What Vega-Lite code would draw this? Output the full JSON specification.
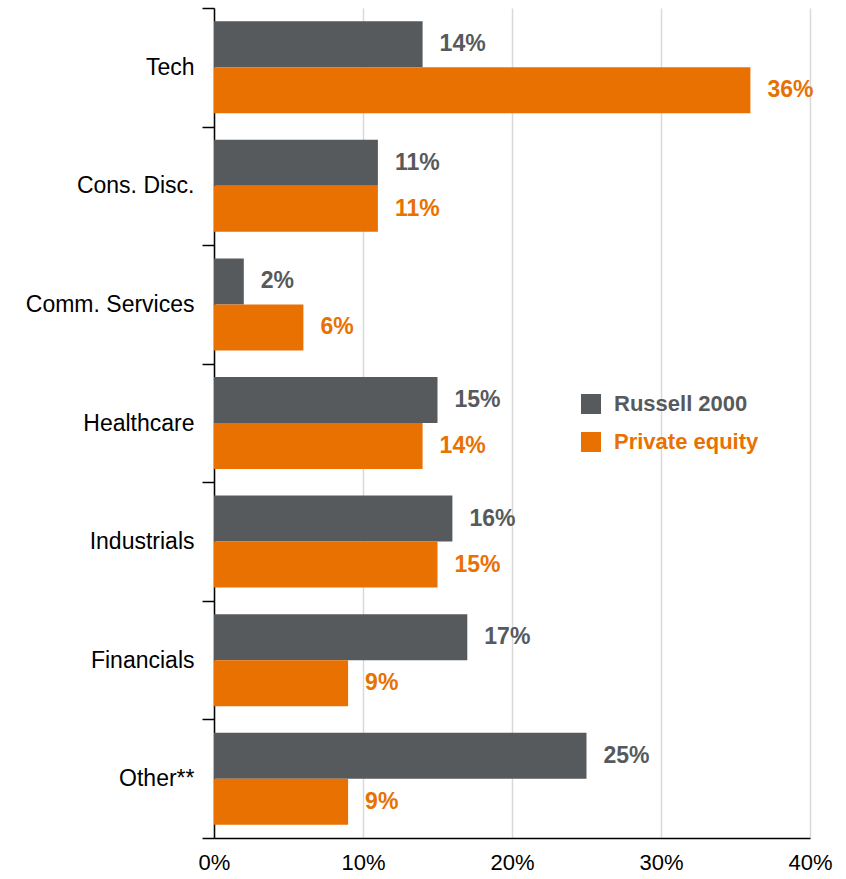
{
  "$schema": "https://vega.github.io/schema/vega-lite/v6.json",
  "width": 596,
  "height": 830,
  "autosize": "none",
  "padding": {"left": 214, "top": 8, "right": 36, "bottom": 41},
  "background": "white",
  "config": {"font": "Liberation Sans", "view": {"stroke": null}},
  "data": {
    "values": [
      {"sector": "Tech", "series": "Russell 2000", "value": 0.14},
      {"sector": "Tech", "series": "Private equity", "value": 0.36},
      {"sector": "Cons. Disc.", "series": "Russell 2000", "value": 0.11},
      {"sector": "Cons. Disc.", "series": "Private equity", "value": 0.11},
      {"sector": "Comm. Services", "series": "Russell 2000", "value": 0.02},
      {"sector": "Comm. Services", "series": "Private equity", "value": 0.06},
      {"sector": "Healthcare", "series": "Russell 2000", "value": 0.15},
      {"sector": "Healthcare", "series": "Private equity", "value": 0.14},
      {"sector": "Industrials", "series": "Russell 2000", "value": 0.16},
      {"sector": "Industrials", "series": "Private equity", "value": 0.15},
      {"sector": "Financials", "series": "Russell 2000", "value": 0.17},
      {"sector": "Financials", "series": "Private equity", "value": 0.09},
      {"sector": "Other**", "series": "Russell 2000", "value": 0.25},
      {"sector": "Other**", "series": "Private equity", "value": 0.09}
    ]
  },
  "encoding": {
    "y": {
      "field": "sector",
      "type": "nominal",
      "sort": null,
      "scale": {"paddingInner": 0, "paddingOuter": 0},
      "axis": {
        "title": null,
        "domainColor": "black",
        "domainWidth": 1.5,
        "tickColor": "black",
        "tickWidth": 1.5,
        "tickSize": 12,
        "tickBand": "extent",
        "labelFontSize": 23,
        "labelColor": "black",
        "labelPadding": 8
      }
    },
    "yOffset": {
      "field": "series",
      "type": "nominal",
      "sort": ["Russell 2000", "Private equity"],
      "scale": {"paddingInner": 0, "paddingOuter": 0.289}
    },
    "x": {
      "field": "value",
      "type": "quantitative",
      "scale": {"domain": [0, 0.4]},
      "axis": {
        "title": null,
        "format": ".0%",
        "values": [0, 0.1, 0.2, 0.3, 0.4],
        "ticks": false,
        "domainColor": "black",
        "domainWidth": 1.5,
        "gridColor": "#D9D9D9",
        "gridWidth": 1.5,
        "labelFontSize": 22,
        "labelColor": "black",
        "labelPadding": 14,
        "labelFlush": false
      }
    },
    "color": {
      "field": "series",
      "type": "nominal",
      "sort": ["Russell 2000", "Private equity"],
      "scale": {"domain": ["Russell 2000", "Private equity"], "range": ["#575A5D", "#E87102"]},
      "legend": {
        "title": null,
        "orient": "none",
        "legendX": 366,
        "legendY": 385,
        "symbolType": "square",
        "symbolSize": 400,
        "symbolStrokeWidth": 0,
        "symbolOpacity": 1,
        "labelFontSize": 22,
        "labelFontWeight": "bold",
        "labelOffset": 12,
        "rowPadding": 16,
        "labelLimit": 300,
        "encode": {
          "labels": {"update": {"fill": {"scale": "color", "field": "value"}}}
        }
      }
    }
  },
  "layer": [
    {"mark": {"type": "bar"}},
    {
      "mark": {"type": "text", "align": "left", "baseline": "middle", "dx": 17, "fontSize": 23, "fontWeight": "bold"},
      "encoding": {
        "text": {"field": "value", "type": "quantitative", "format": ".0%"}
      }
    }
  ]
}
